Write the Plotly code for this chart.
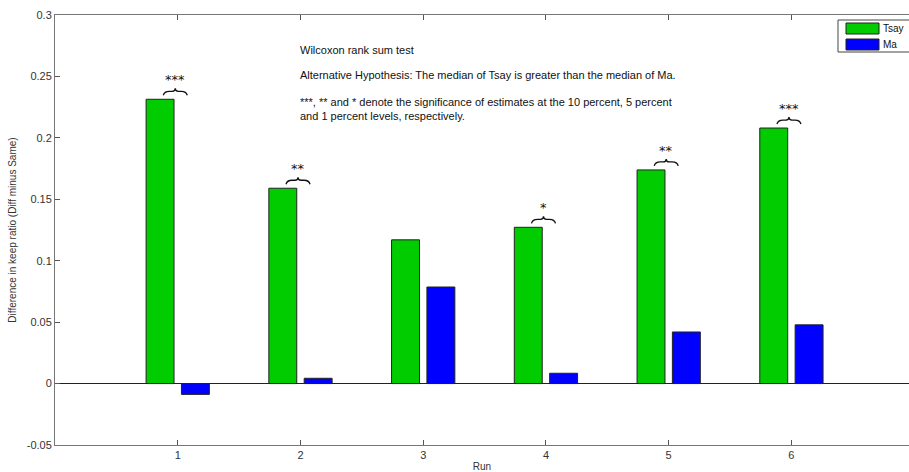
import plotly.graph_objects as go

runs = [1, 2, 3, 4, 5, 6]
tsay = [0.2314, 0.159, 0.117, 0.1272, 0.1739, 0.208]
ma = [-0.0088, 0.0043, 0.0786, 0.0084, 0.0420, 0.0478]
signif = ["***", "**", "", "*", "**", "***"]
y_ticks = [-0.05, 0, 0.05, 0.1, 0.15, 0.2, 0.25, 0.3]
y_ticklabels = ["-0.05", "0", "0.05", "0.1", "0.15", "0.2", "0.25", "0.3"]
notes = [
    "Wilcoxon rank sum test",
    "Alternative Hypothesis: The median of Tsay is greater than the median of Ma.",
    "***, ** and * denote the significance of estimates at the 10 percent, 5 percent<br>and 1 percent levels, respectively.",
]
series_names = ["Tsay", "Ma"]
series_colors = ["#00CC00", "#0000FF"]

FONT = "Liberation Sans, Arial, sans-serif"
L, T, B, W, H = 55, 15, 27, 909, 472
pw, ph = W - L, H - T - B


def px(x):
    return (x - L) / pw


def py(y):
    return 1 - (y - T) / ph


fig = go.Figure()
for name, vals, col in zip(series_names, [tsay, ma], series_colors):
    fig.add_trace(go.Bar(x=runs, y=vals, name=name, showlegend=False,
                         marker=dict(color=col, line=dict(color="#222222", width=1))))

annotations = []
shapes = []
BRACE = "M -12 4 Q -11 8 -6 8 L -3 8 Q 0 8 0 11 Q 0 8 3 8 L 6 8 Q 11 8 12 4"
for r, v, s in zip(runs, tsay, signif):
    if not s:
        continue
    shapes.append(dict(type="path", xref="x", yref="y", xsizemode="pixel", ysizemode="pixel",
                       xanchor=r - 0.02, yanchor=v, path=BRACE,
                       line=dict(color="#111111", width=1.3)))
    annotations.append(dict(x=r - 0.02, y=v, xref="x", yref="y", text=s, showarrow=False,
                            yanchor="bottom", yshift=10,
                            font=dict(family="DejaVu Sans", size=13, color="#111111")))

note_y = [50, 75, 109]
for t, yy in zip(notes, note_y):
    annotations.append(dict(x=px(298), y=py(yy), xref="paper", yref="paper", text=t, showarrow=False,
                            xanchor="left", yanchor="middle", align="left",
                            font=dict(family=FONT, size=11, color="#111111")))

# manual legend (MATLAB style)
shapes.append(dict(type="rect", xref="paper", yref="paper", x0=px(838), x1=px(915), y0=py(52), y1=py(20),
                   line=dict(color="#444444", width=1), fillcolor="white", layer="above"))
leg_rows = [28.5, 44.5]
for name, col, cy in zip(series_names, series_colors, leg_rows):
    shapes.append(dict(type="rect", xref="paper", yref="paper", x0=px(846), x1=px(879),
                       y0=py(cy + 5.5), y1=py(cy - 5.5), line=dict(color="#222222", width=1),
                       fillcolor=col, layer="above"))
    annotations.append(dict(x=px(881), y=py(cy), xref="paper", yref="paper", text=name, showarrow=False,
                            xanchor="left", yanchor="middle",
                            font=dict(family=FONT, size=10, color="#111111")))

fig.update_layout(
    width=W, height=H,
    margin=dict(l=L, r=0, t=T, b=B),
    paper_bgcolor="white", plot_bgcolor="white",
    barmode="group", bargap=0.424, bargroupgap=0.21,
    font=dict(family=FONT, size=11, color="#333333"),
    showlegend=False,
    annotations=annotations,
    shapes=shapes,
)
fig.update_xaxes(range=[0, 6.958], tickvals=runs, ticktext=[str(r) for r in runs],
                 ticks="inside", ticklen=5, tickcolor="#555555", showline=True, linecolor="#777777",
                 linewidth=1, mirror="ticks", showgrid=False, zeroline=False, automargin=False,
                 title=dict(text="Run", font=dict(size=10, color="#333333"), standoff=2),
                 tickfont=dict(size=11, color="#333333"))
fig.update_yaxes(range=[-0.05, 0.3], tickvals=y_ticks, ticktext=y_ticklabels,
                 ticks="inside", ticklen=5, tickcolor="#555555", showline=True, linecolor="#777777",
                 linewidth=1, mirror=False, showgrid=False, zeroline=True, zerolinecolor="#222222",
                 zerolinewidth=1, automargin=False,
                 title=dict(text="Difference in keep ratio (Diff minus Same)",
                            font=dict(size=10, color="#333333"), standoff=8),
                 tickfont=dict(size=11, color="#333333"))
fig.write_html("out.html", config={"displayModeBar": False},
               post_script="document.body.style.margin='0';document.body.style.padding='0';")
